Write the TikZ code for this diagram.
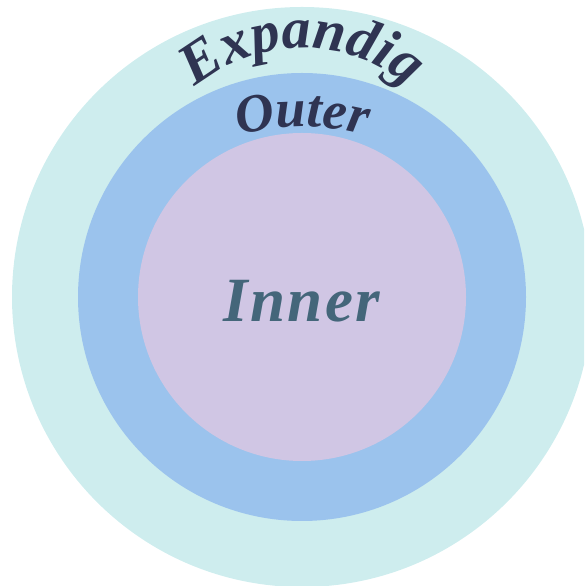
\documentclass[tikz,border=0pt]{standalone}
\usepackage{fontspec}
\setmainfont{Liberation Serif}
\usetikzlibrary{decorations.text}
\definecolor{ringouter}{RGB}{206,237,238}
\definecolor{ringmid}{RGB}{155,195,237}
\definecolor{ringinner}{RGB}{208,198,228}
\definecolor{navytext}{RGB}{47,52,82}
\definecolor{slatetext}{RGB}{68,102,122}
\tikzset{
  ring/.style={circle, draw=none, inner sep=0pt, fill=#1},
  arctext/.style 2 args={decorate, decoration={text along path, text align=center,
    text format delimiters={|}{|},
    text={|\bfseries\itshape\fontsize{#1}{#1}\selectfont\color{navytext}|#2}}}
}
\begin{document}
\begin{tikzpicture}[x=1pt,y=1pt]
\useasboundingbox (0,0) rectangle (584,586);
\clip (0,0) rectangle (584,586);
\node[ring=ringouter, minimum size=580pt] (outer) at (302,289) {};
\node[ring=ringmid, minimum size=448pt] (middle) at (302,289) {};
\node[ring=ringinner, minimum size=328pt] (inner) at (302,289) {};
\path[arctext={58}{Expandig}] (137,373) arc[start angle=180, end angle=0, radius=165];
\path[arctext={54}{Outer}] (42,199) arc[start angle=180, end angle=0, radius=260];
\node[anchor=base, inner sep=0pt, text=slatetext,
  font=\bfseries\itshape\fontsize{63}{63}\selectfont\addfontfeature{LetterSpace=4}]
  (innerlabel) at (302,264) {Inner};
\end{tikzpicture}
\end{document}
